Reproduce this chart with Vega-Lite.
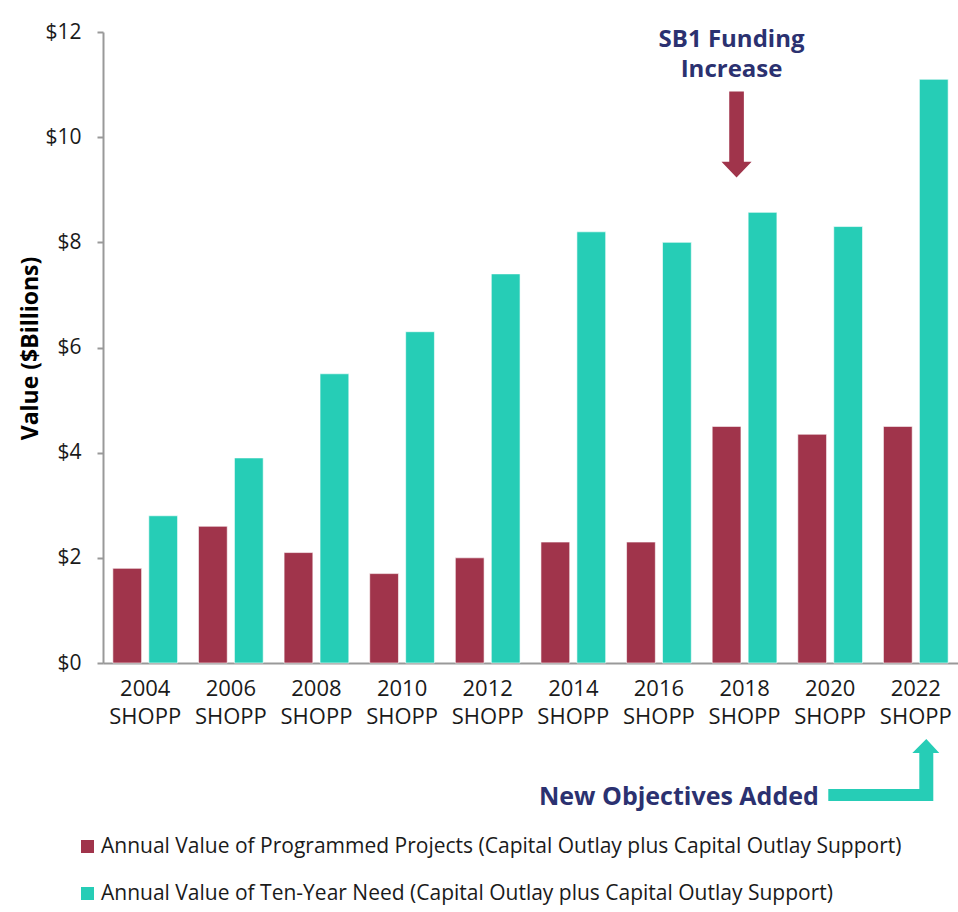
{
  "$schema": "https://vega.github.io/schema/vega-lite/v6.json",
  "width": 855,
  "height": 631,
  "autosize": {"type": "none"},
  "padding": {"left": 103, "top": 32, "right": 0, "bottom": 249},
  "background": "white",
  "config": {
    "view": {"stroke": null},
    "font": "Open Sans"
  },
  "datasets": {
    "bars": [
      {"shopp": "2004 SHOPP", "series": "Annual Value of Programmed Projects (Capital Outlay plus Capital Outlay Support)", "value": 1.8},
      {"shopp": "2004 SHOPP", "series": "Annual Value of Ten-Year Need (Capital Outlay plus Capital Outlay Support)", "value": 2.8},
      {"shopp": "2006 SHOPP", "series": "Annual Value of Programmed Projects (Capital Outlay plus Capital Outlay Support)", "value": 2.6},
      {"shopp": "2006 SHOPP", "series": "Annual Value of Ten-Year Need (Capital Outlay plus Capital Outlay Support)", "value": 3.9},
      {"shopp": "2008 SHOPP", "series": "Annual Value of Programmed Projects (Capital Outlay plus Capital Outlay Support)", "value": 2.1},
      {"shopp": "2008 SHOPP", "series": "Annual Value of Ten-Year Need (Capital Outlay plus Capital Outlay Support)", "value": 5.5},
      {"shopp": "2010 SHOPP", "series": "Annual Value of Programmed Projects (Capital Outlay plus Capital Outlay Support)", "value": 1.7},
      {"shopp": "2010 SHOPP", "series": "Annual Value of Ten-Year Need (Capital Outlay plus Capital Outlay Support)", "value": 6.3},
      {"shopp": "2012 SHOPP", "series": "Annual Value of Programmed Projects (Capital Outlay plus Capital Outlay Support)", "value": 2.0},
      {"shopp": "2012 SHOPP", "series": "Annual Value of Ten-Year Need (Capital Outlay plus Capital Outlay Support)", "value": 7.4},
      {"shopp": "2014 SHOPP", "series": "Annual Value of Programmed Projects (Capital Outlay plus Capital Outlay Support)", "value": 2.3},
      {"shopp": "2014 SHOPP", "series": "Annual Value of Ten-Year Need (Capital Outlay plus Capital Outlay Support)", "value": 8.2},
      {"shopp": "2016 SHOPP", "series": "Annual Value of Programmed Projects (Capital Outlay plus Capital Outlay Support)", "value": 2.3},
      {"shopp": "2016 SHOPP", "series": "Annual Value of Ten-Year Need (Capital Outlay plus Capital Outlay Support)", "value": 8.0},
      {"shopp": "2018 SHOPP", "series": "Annual Value of Programmed Projects (Capital Outlay plus Capital Outlay Support)", "value": 4.5},
      {"shopp": "2018 SHOPP", "series": "Annual Value of Ten-Year Need (Capital Outlay plus Capital Outlay Support)", "value": 8.57},
      {"shopp": "2020 SHOPP", "series": "Annual Value of Programmed Projects (Capital Outlay plus Capital Outlay Support)", "value": 4.35},
      {"shopp": "2020 SHOPP", "series": "Annual Value of Ten-Year Need (Capital Outlay plus Capital Outlay Support)", "value": 8.3},
      {"shopp": "2022 SHOPP", "series": "Annual Value of Programmed Projects (Capital Outlay plus Capital Outlay Support)", "value": 4.5},
      {"shopp": "2022 SHOPP", "series": "Annual Value of Ten-Year Need (Capital Outlay plus Capital Outlay Support)", "value": 11.1}
    ],
    "sb1text": [
      {"shopp": "2018 SHOPP", "value": 11.85, "label": "SB1 Funding\nIncrease"}
    ],
    "sb1arrow": [
      {"shopp": "2018 SHOPP", "value": 10.05}
    ],
    "newtext": [
      {"shopp": "2016 SHOPP", "value": -2.55, "label": "New Objectives Added"}
    ],
    "newarrow": [
      {"shopp": "2022 SHOPP", "value": -2.035}
    ]
  },
  "encoding": {
    "x": {
      "field": "shopp",
      "type": "nominal",
      "sort": null,
      "scale": {"paddingInner": 0.244, "paddingOuter": 0.115},
      "axis": {
        "title": null,
        "labelExpr": "split(datum.label, ' ')",
        "labelAngle": 0,
        "labelFontSize": 22,
        "labelColor": "#1a1a1a",
        "labelLineHeight": 28,
        "labelPadding": 15,
        "ticks": false,
        "domainColor": "#999999",
        "domainWidth": 2
      }
    },
    "y": {
      "field": "value",
      "type": "quantitative",
      "scale": {"domain": [0, 12], "nice": false},
      "axis": {
        "title": "Value ($Billions)",
        "titleFontSize": 23,
        "titleFontWeight": "bold",
        "titleColor": "#000000",
        "titleX": -73,
        "titleY": 316,
        "titleBaseline": "middle",
        "values": [0, 2, 4, 6, 8, 10, 12],
        "labelExpr": "'$' + datum.value",
        "labelFontSize": 21,
        "labelColor": "#1a1a1a",
        "labelPadding": 16,
        "tickSize": 6,
        "tickColor": "#999999",
        "tickWidth": 2,
        "domainColor": "#999999",
        "domainWidth": 2,
        "grid": false
      }
    }
  },
  "layer": [
    {
      "data": {"name": "bars"},
      "mark": {"type": "bar", "stroke": "#ffffff", "strokeOpacity": 0.6, "strokeWidth": 1},
      "encoding": {
        "xOffset": {
          "field": "series",
          "type": "nominal",
          "sort": null,
          "scale": {"paddingInner": 0.2, "paddingOuter": 0}
        },
        "color": {
          "field": "series",
          "type": "nominal",
          "sort": null,
          "scale": {
            "domain": [
              "Annual Value of Programmed Projects (Capital Outlay plus Capital Outlay Support)",
              "Annual Value of Ten-Year Need (Capital Outlay plus Capital Outlay Support)"
            ],
            "range": ["#A0344B", "#26CDB6"]
          },
          "legend": {
            "title": null,
            "orient": "none",
            "direction": "vertical",
            "legendX": -26,
            "legendY": 804,
            "symbolType": "square",
            "symbolSize": 170,
            "symbolStrokeWidth": 0,
            "symbolOpacity": 1,
            "labelFontSize": 21,
            "labelColor": "#1a1a1a",
            "labelLimit": 1000,
            "labelOffset": 3,
            "rowPadding": 25
          }
        }
      }
    },
    {
      "data": {"name": "sb1text"},
      "mark": {"type": "text", "fontSize": 24, "fontWeight": "bold", "color": "#2B3170", "xOffset": -13, "baseline": "middle", "lineBreak": "\n", "lineHeight": 30},
      "encoding": {"text": {"field": "label"}}
    },
    {
      "data": {"name": "sb1arrow"},
      "mark": {
        "type": "point",
        "filled": true,
        "opacity": 1,
        "color": "#A0344B",
        "shape": "M-0.17,-1 L0.17,-1 L0.17,0.63 L0.35,0.63 L0,1 L-0.35,0.63 L-0.17,0.63 Z",
        "size": 7396,
        "xOffset": -8
      }
    },
    {
      "data": {"name": "newtext"},
      "mark": {"type": "text", "fontSize": 25, "fontWeight": "bold", "color": "#2B3170", "xOffset": 20, "baseline": "middle"},
      "encoding": {"text": {"field": "label"}}
    },
    {
      "data": {"name": "newarrow"},
      "mark": {
        "type": "point",
        "filled": true,
        "opacity": 1,
        "color": "#26CDB6",
        "shape": "M-1,0.342 L0.640,0.342 L0.640,-0.306 L0.514,-0.306 L0.766,-0.559 L1,-0.306 L0.892,-0.306 L0.892,0.559 L-1,0.559 Z",
        "size": 12321,
        "xOffset": -32
      }
    }
  ]
}
